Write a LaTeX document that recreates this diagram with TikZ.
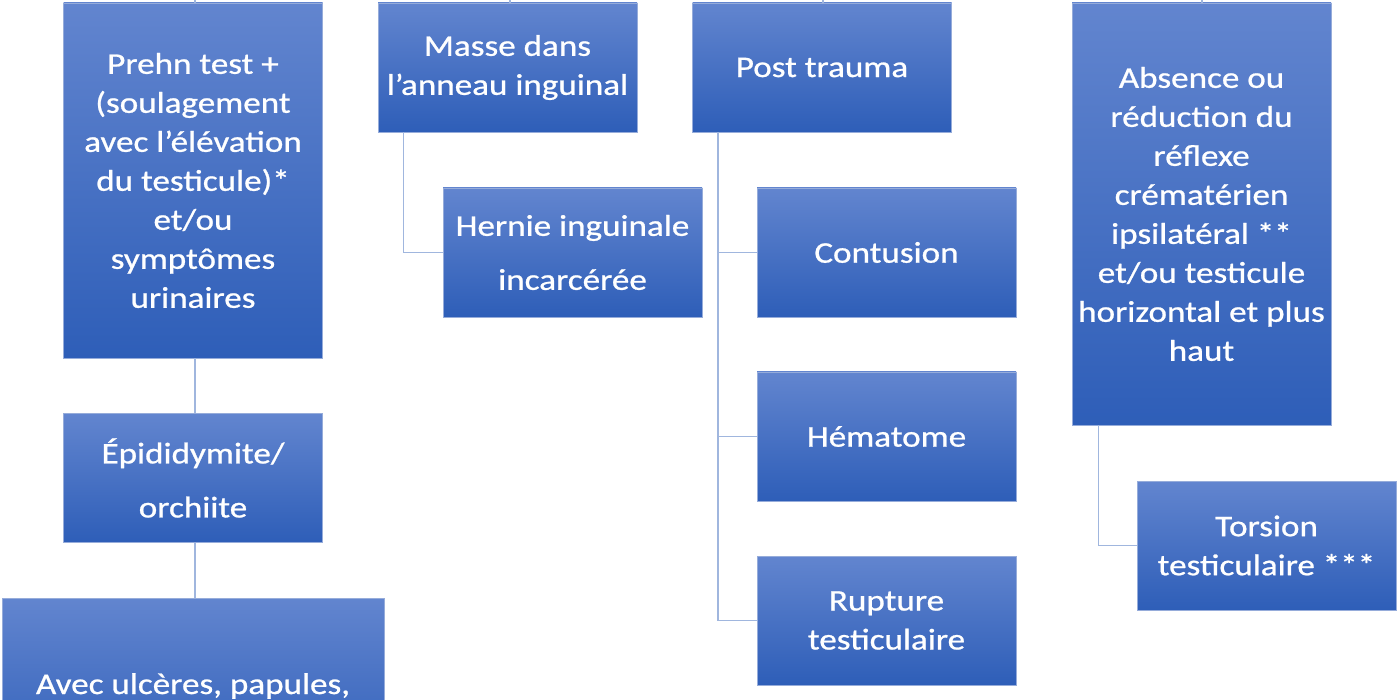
\documentclass[tikz,border=0pt]{standalone}
\usepackage{fontspec}
\setmainfont{Carlito}[FakeStretch=1.17,FakeBold=0.8]
\usepackage{tikz}
\usetikzlibrary{positioning,calc}

\definecolor{boxtop}{RGB}{98,133,207}
\definecolor{boxbottom}{RGB}{46,94,184}
\definecolor{boxedge}{RGB}{150,172,218}
\definecolor{linkblue}{RGB}{160,182,222}

\begin{document}
\begin{tikzpicture}[
        x=1pt, y=-1pt,
        finding/.style={rectangle, draw=boxedge, line width=0.8pt, top color=boxtop, bottom color=boxbottom, text=white, align=center, minimum width=259pt, minimum height=129pt, inner sep=2pt, font=\fontsize{30}{39}\selectfont},
        link/.style={draw=linkblue, line width=1.6pt}
    ]
    \useasboundingbox (0,0) rectangle (1400,700);
    \clip (0,0) rectangle (1400,700);
    \fill[white] (0,0) rectangle (1400,700);

    % left column
    \node[finding, minimum height=355pt] (prehn) at (193,180.5) {Prehn test +\\(soulagement\\avec l’élévation\\du testicule)*\\et/ou\\symptômes\\urinaires};
    \node[finding] (epid) at (193,478) {Épididymite/\\[15pt]orchiite};
    \node[finding, minimum width=382pt, minimum height=176pt] (ulcer) at (193,686) {Avec ulcères, papules,};

    % inguinal
    \node[finding] (masse) at (507.5,67.5) {Masse dans\\l'anneau inguinal};
    \node[finding] (hernie) at (572.5,252.5) {Hernie inguinale\\[15pt]incarcérée};

    % trauma
    \node[finding] (trauma) at (822,67.5) {Post trauma};
    \node[finding] (contusion) at (886.5,252.5) {Contusion};
    \node[finding] (hematome) at (886.5,436.5) {Hématome};
    \node[finding] (rupture) at (886.5,620.5) {Rupture\\testiculaire};

    % torsion
    \node[finding, minimum height=422pt] (reflexe) at (1201.5,214) {Absence ou\\réduction du\\réflexe\\crématérien\\ipsilatéral **\\et/ou testicule\\horizontal et plus\\haut};
    \node[finding] (torsion) at (1266.5,545.5) {Torsion\\testiculaire ***};

    \coordinate (up1) at (195,0);
    \coordinate (up2) at (510,0);
    \coordinate (up3) at (823,0);
    \coordinate (up4) at (1202,0);

    \draw[link] (up1) -- (up1 |- prehn.north);
    \draw[link] (up2) -- (up2 |- masse.north);
    \draw[link] (up3) -- (up3 |- trauma.north);
    \draw[link] (up4) -- (up4 |- reflexe.north);

    \draw[link] ([xshift=2pt]prehn.south) -- ([xshift=2pt]epid.north);
    \draw[link] ([xshift=2pt]epid.south) -- ([xshift=2pt]ulcer.north);

    \draw[link] ([xshift=26pt]masse.south west) |- (hernie.west);
    \draw[link] ([xshift=26pt]trauma.south west) |- (contusion.west);
    \draw[link] ([xshift=26pt]trauma.south west) |- (hematome.west);
    \draw[link] ([xshift=26pt]trauma.south west) |- (rupture.west);
    \draw[link] ([xshift=27pt]reflexe.south west) |- (torsion.west);
\end{tikzpicture}
\end{document}
